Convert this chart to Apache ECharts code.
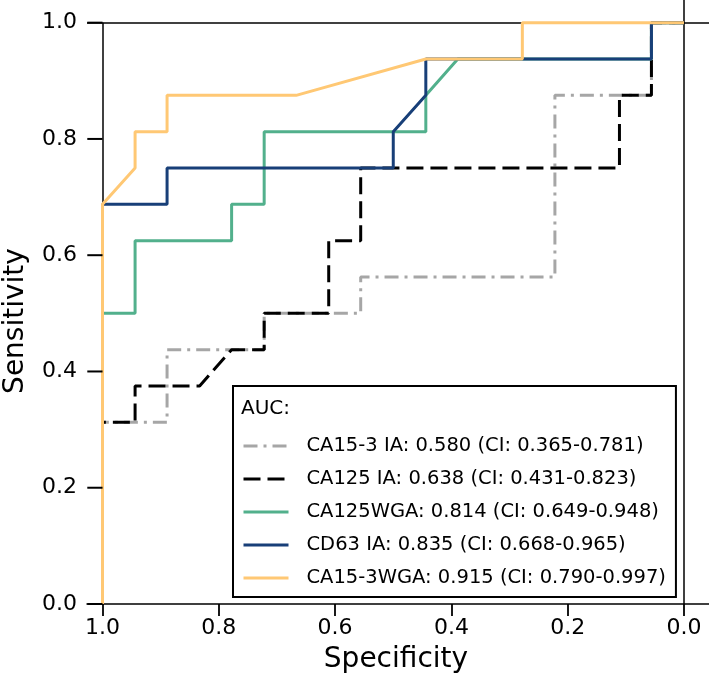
<!DOCTYPE html>
<html>
<head>
<meta charset="utf-8">
<script src="https://cdn.jsdelivr.net/npm/echarts@6/dist/echarts.min.js"></script>
<style>
html,body{margin:0;padding:0;background:#fff;}
#chart{width:709px;height:683px;}
</style>
</head>
<body>
<div id="chart"></div>
<script>
// Tick values
const tickValues = [0, 0.2, 0.4, 0.6, 0.8, 1.0];

// Series names (legend)
const seriesNames = [
  'CA15-3 IA: 0.580 (CI: 0.365-0.781)',
  'CA125 IA: 0.638 (CI: 0.431-0.823)',
  'CA125WGA: 0.814 (CI: 0.649-0.948)',
  'CD63 IA: 0.835 (CI: 0.668-0.965)',
  'CA15-3WGA: 0.915 (CI: 0.790-0.997)'
];

// CA15-3 IA
const ca153iaSpec = [1, 1, 0.889, 0.889, 0.722, 0.722, 0.556, 0.556, 0.222, 0.222, 0.056, 0.056, 0];
const ca153iaSens = [0, 0.3125, 0.3125, 0.4375, 0.4375, 0.5, 0.5, 0.5625, 0.5625, 0.875, 0.875, 1, 1];

// CA125 IA
const ca125iaSpec = [1, 1, 0.944, 0.944, 0.833, 0.778, 0.722, 0.722, 0.611, 0.611, 0.556, 0.556, 0.111, 0.111, 0.056, 0.056, 0];
const ca125iaSens = [0, 0.3125, 0.3125, 0.375, 0.375, 0.4375, 0.4375, 0.5, 0.5, 0.625, 0.625, 0.75, 0.75, 0.875, 0.875, 1, 1];

// CA125WGA
const ca125wgaSpec = [1, 1, 0.944, 0.944, 0.778, 0.778, 0.722, 0.722, 0.444, 0.444, 0.389, 0.056, 0.056, 0];
const ca125wgaSens = [0, 0.5, 0.5, 0.625, 0.625, 0.6875, 0.6875, 0.8125, 0.8125, 0.875, 0.9375, 0.9375, 1, 1];

// CD63 IA
const cd63Spec = [1, 1, 0.889, 0.889, 0.5, 0.5, 0.444, 0.444, 0.056, 0.056, 0];
const cd63Sens = [0, 0.6875, 0.6875, 0.75, 0.75, 0.8125, 0.875, 0.9375, 0.9375, 1, 1];

// CA15-3WGA
const ca153wgaSpec = [1, 1, 0.944, 0.944, 0.889, 0.889, 0.667, 0.444, 0.278, 0.278, 0];
const ca153wgaSens = [0, 0.6875, 0.75, 0.8125, 0.8125, 0.875, 0.875, 0.9375, 0.9375, 1, 1];

const FONT = 'DejaVu Sans';
const X_MAX = 1.0267;
const TICK_START = 1.0262;
const zip = (a, b) => a.map((v, i) => [v, b[i]]);

const specs = [ca153iaSpec, ca125iaSpec, ca125wgaSpec, cd63Spec, ca153wgaSpec];
const sens = [ca153iaSens, ca125iaSens, ca125wgaSens, cd63Sens, ca153wgaSens];
const styles = [
  {color: '#a6a6a6', width: 3, type: [14, 6, 3, 6]},
  {color: '#000000', width: 3, type: [17, 7]},
  {color: '#52b08c', width: 3, type: 'solid'},
  {color: '#183f78', width: 3, type: 'solid'},
  {color: '#ffc874', width: 3, type: 'solid'}
];

const series = seriesNames.map((name, i) => ({
  name: name,
  type: 'line',
  data: zip(specs[i], sens[i]),
  symbol: 'none',
  showSymbol: false,
  z: 3 + i,
  color: styles[i].color,
  lineStyle: styles[i],
  animation: false
}));

// reference lines and left spine
series[0].markLine = {
  silent: true,
  symbol: 'none',
  animation: false,
  label: {show: false},
  lineStyle: {color: '#000', width: 1.5, type: 'solid'},
  data: [
    {yAxis: 1},
    {xAxis: 0},
    [{coord: [1, 0]}, {coord: [1, 1]}]
  ]
};

// y-axis tick marks (between the axis edge and spine at specificity 1.0)
tickValues.forEach((v, i) => {
  series.push({
    name: 'ytick' + i,
    type: 'line',
    data: [[TICK_START, v], [1, v]],
    symbol: 'none',
    showSymbol: false,
    silent: true,
    clip: false,
    z: 10,
    color: '#000',
    lineStyle: {color: '#000', width: 2, type: 'solid'},
    animation: false
  });
});

const chart = echarts.init(document.getElementById('chart'), null, {renderer: 'canvas'});
chart.setOption({
  animation: false,
  backgroundColor: '#fff',
  textStyle: {fontFamily: FONT},
  title: {
    text: 'AUC:',
    left: 241,
    top: 399,
    padding: 0,
    textStyle: {fontFamily: FONT, fontSize: 20, fontWeight: 'normal', color: '#000'}
  },
  grid: {left: 87, right: 0, top: 0, bottom: 79, containLabel: false, outerBoundsMode: 'none'},
  legend: {
    orient: 'vertical',
    left: 233,
    top: 386,
    padding: [49, 10, 8, 9],
    itemGap: 11,
    itemWidth: 45,
    itemHeight: 14,
    borderColor: '#000',
    borderWidth: 2,
    borderRadius: 0,
    backgroundColor: '#fff',
    selectedMode: false,
    itemStyle: {color: 'rgba(0,0,0,0)', borderColor: 'rgba(0,0,0,0)', borderWidth: 0, opacity: 0},
    lineStyle: {width: 3},
    textStyle: {
      fontFamily: FONT, fontSize: 19.5, color: '#000', lineHeight: 22,
      padding: [0, 0, 0, 13]
    },
    data: seriesNames
  },
  xAxis: {
    type: 'value',
    inverse: true,
    min: -0.043,
    max: X_MAX,
    name: 'Specificity',
    nameLocation: 'middle',
    nameGap: 42,
    nameTextStyle: {fontFamily: FONT, fontSize: 28, color: '#000', padding: [0, 4, 0, 0]},
    axisLine: {show: true, onZero: false, lineStyle: {color: '#000', width: 1.5}},
    axisTick: {show: true, length: 12, inside: false, customValues: tickValues, lineStyle: {color: '#000', width: 1.8}},
    axisLabel: {show: true, margin: 13, fontFamily: FONT, fontSize: 22, color: '#000', customValues: tickValues,
      formatter: v => Number(v).toFixed(1)},
    splitLine: {show: false}
  },
  yAxis: {
    type: 'value',
    min: 0,
    max: 1.039,
    name: 'Sensitivity',
    nameLocation: 'middle',
    nameGap: 57,
    nameTextStyle: {fontFamily: FONT, fontSize: 28, color: '#000', padding: [0, 38, 0, 0]},
    axisLine: {show: false, onZero: false},
    axisTick: {show: false},
    axisLabel: {show: true, margin: 10, fontFamily: FONT, fontSize: 22, color: '#000', customValues: tickValues,
      formatter: v => Number(v).toFixed(1)},
    splitLine: {show: false}
  },
  series: series
});
</script>
</body>
</html>
